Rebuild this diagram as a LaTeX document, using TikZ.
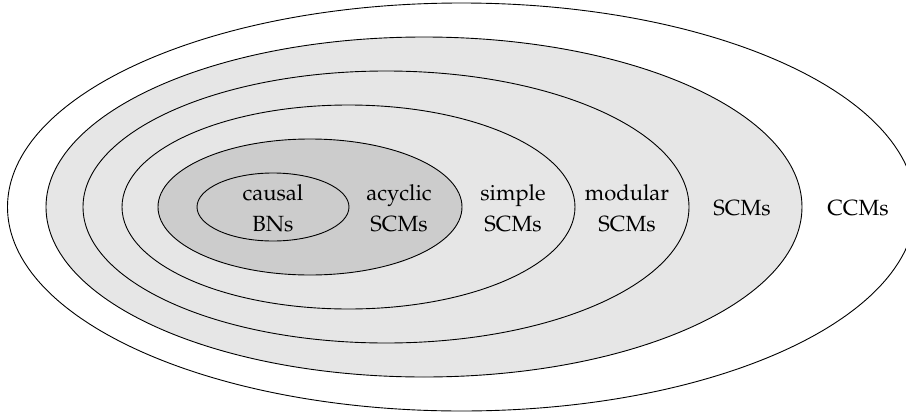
\documentclass[tikz,border=0pt]{standalone}
\usepackage[T1]{fontenc}
\usepackage{mathpazo}
\definecolor{lightfill}{HTML}{E6E6E6}
\definecolor{darkfill}{HTML}{CCCCCC}
\tikzset{
  ring/.style={draw=black, line width=0.9pt},
  lbl/.style={anchor=base, inner sep=0pt, font=\fontsize{22}{26}\selectfont}
}
\begin{document}
\begin{tikzpicture}[x=1pt, y=-1pt]
\useasboundingbox (0,0) rectangle (906,418);
\clip (0,0) rectangle (906,418);
\fill[white] (0,0) rectangle (906,418);
% ellipses, outermost first
\draw[ring, fill=white] (461.5,207) ellipse [x radius=454pt, y radius=204pt];
\draw[ring, fill=lightfill] (424,207) ellipse [x radius=378pt, y radius=170pt];
\draw[ring, fill=lightfill] (386,207) ellipse [x radius=303pt, y radius=136pt];
\draw[ring, fill=lightfill] (348.5,207) ellipse [x radius=226.5pt, y radius=102pt];
\draw[ring, fill=darkfill] (310,207) ellipse [x radius=152pt, y radius=68pt];
\draw[ring, fill=darkfill] (273,207) ellipse [x radius=76pt, y radius=34pt];
% labels
\node[lbl] (causalA) at (273,200) {causal};
\node[lbl] (causalB) at (273,231.5) {BNs};
\node[lbl] (acyclicA) at (399,200) {acyclic};
\node[lbl] (acyclicB) at (399,231.5) {SCMs};
\node[lbl] (simpleA) at (513,200) {simple};
\node[lbl] (simpleB) at (513,231.5) {SCMs};
\node[lbl] (modularA) at (627,200) {modular};
\node[lbl] (modularB) at (627,231.5) {SCMs};
\node[lbl] (scms) at (742,215) {SCMs};
\node[lbl] (ccms) at (858,215) {CCMs};
\end{tikzpicture}
\end{document}
